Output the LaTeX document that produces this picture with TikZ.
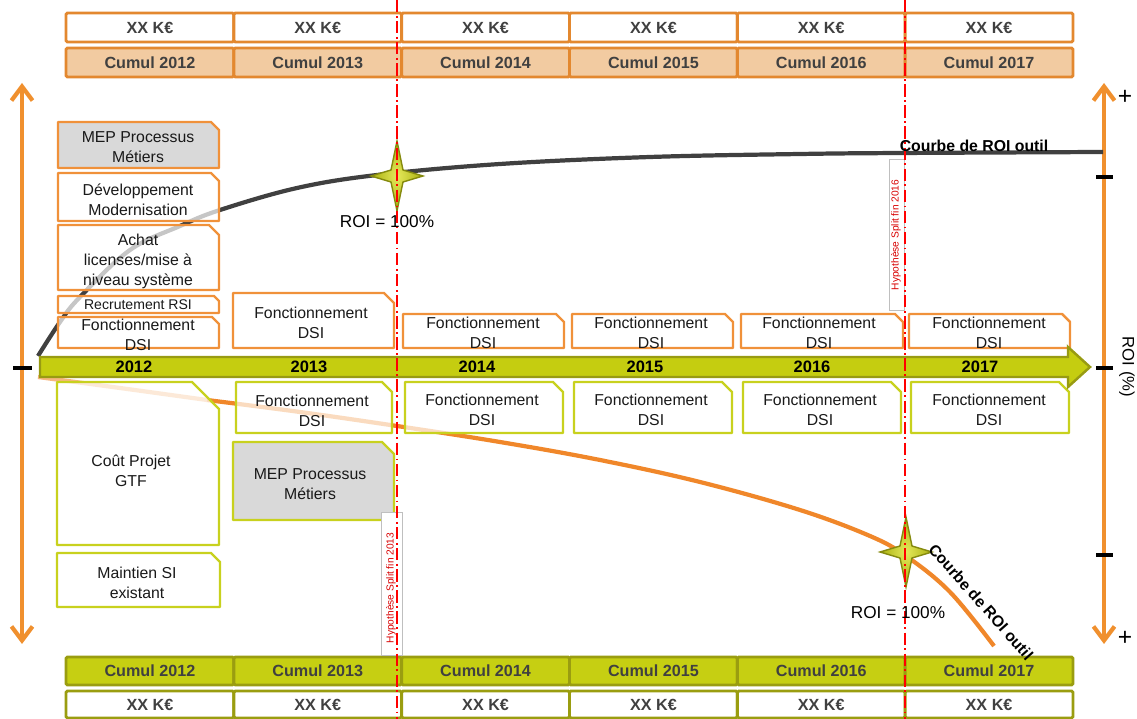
\documentclass[tikz,border=0pt]{standalone}
\usepackage{fontspec}
\setmainfont{Liberation Sans}
\usetikzlibrary{arrows.meta}
\definecolor{orBorder}{HTML}{E3882F}
\definecolor{orFill}{HTML}{F2CBA1}
\definecolor{orBox}{HTML}{F0913A}
\definecolor{olFill}{HTML}{C6CF12}
\definecolor{olBorder}{HTML}{9A9D10}
\definecolor{grBox}{HTML}{C8D11E}
\definecolor{meGray}{HTML}{D9D9D9}
\definecolor{axOr}{HTML}{F0902E}
\definecolor{curveGray}{HTML}{404040}
\definecolor{curveOr}{HTML}{F0872A}
\definecolor{txtGray}{HTML}{404040}
\definecolor{bandFill}{HTML}{C5CD10}
\definecolor{bandBorder}{HTML}{989B12}
\definecolor{starIn}{HTML}{E4E85A}
\definecolor{starOut}{HTML}{A9B00E}
\definecolor{starBorder}{HTML}{858A0E}
\newcommand\snipbox[6]{\draw[#1] (#2,#3) -- ({#4-#6},#3) -- (#4,{#3+#6}) -- (#4,#5) -- (#2,#5) -- cycle;}
\newcommand\starat[2]{\shadedraw[starsh] (#1,{#2-35}) -- ({#1+6},{#2-6}) -- ({#1+26},#2) -- ({#1+6},{#2+6}) -- (#1,{#2+35}) -- ({#1-6},{#2+6}) -- ({#1-26},#2) -- ({#1-6},{#2-6}) -- cycle;}
\tikzset{
 rowcell/.style={draw, line width=1.6pt, minimum width=3.356cm, minimum height=0.58cm, inner sep=0pt, font=\bfseries\fontsize{9.2}{11}\selectfont, text=txtGray, rounded corners=0.8pt},
 toprowA/.style={rowcell, draw=orBorder, fill=white},
 toprowB/.style={rowcell, draw=orBorder, fill=orFill},
 botrowA/.style={rowcell, draw=olBorder, fill=olFill, minimum height=0.56cm},
 botrowB/.style={rowcell, draw=olBorder, fill=white, minimum height=0.54cm},
 obox/.style={draw=orBox, line width=1.4pt, fill=white, fill opacity=0.7, line join=round},
 ogbox/.style={draw=orBox, line width=1.4pt, fill=meGray, line join=round},
 gbox/.style={draw=grBox, line width=1.4pt, fill=white, fill opacity=0.7, line join=round},
 ggbox/.style={draw=grBox, line width=1.4pt, fill=meGray, line join=round},
 lbl/.style={align=center, font=\fontsize{9}{11.3}\selectfont, text=black!90, inner sep=0pt},
 yrlbl/.style={font=\bfseries\fontsize{9.4}{11}\selectfont, inner sep=0pt},
 axisarrow/.style={draw=axOr, line width=2.4pt, arrows={Straight Barb[length=8pt,width=12pt]-Straight Barb[length=8pt,width=12pt]}},
 tickmark/.style={line width=2.2pt, black},
 split/.style={draw=red, line width=1.1pt, dash pattern=on 7pt off 2pt on 1pt off 2pt},
 hyp/.style={draw=black!25, line width=0.4pt, fill=white},
 hyptext/.style={text=red!85!black, font=\fontsize{5.8}{7}\selectfont, rotate=90, inner sep=0pt},
 starsh/.style={draw=starBorder, line width=0.8pt, inner color=starIn, outer color=starOut},
 roitext/.style={font=\fontsize{9.8}{12}\selectfont, inner sep=0pt},
 curvelbl/.style={font=\bfseries\fontsize{9}{11}\selectfont, inner sep=0pt},
 plussign/.style={font=\fontsize{14}{16}\selectfont, inner sep=0pt},
}
\begin{document}
\begin{tikzpicture}[x=0.02cm,y=-0.02cm]
\useasboundingbox (0,0) rectangle (1137,719);

% cumulative rows
\foreach \i in {0,...,5} {
  \pgfmathsetmacro\cx{66+167.83*(\i+0.5)}
  \pgfmathtruncatemacro\yr{2012+\i}
  \node[toprowA] (tx\i) at (\cx,27.5) {XX K€};
  \node[toprowB] (tc\i) at (\cx,62.5) {Cumul \yr};
  \node[botrowA] (bc\i) at (\cx,671) {Cumul \yr};
  \node[botrowB] (bx\i) at (\cx,704.5) {XX K€};
}

% axes
\draw[axisarrow] (22,644) -- (22,83);
\draw[axisarrow] (1104,644) -- (1104,83);
\draw[tickmark] (13,368) -- (32,368);
\draw[tickmark] (1096,177) -- (1113,177);
\draw[tickmark] (1096,368) -- (1113,368);
\draw[tickmark] (1096,555) -- (1113,555);

% curves
\draw[curveGray, line width=2.4pt] plot[smooth, tension=0.6] coordinates {(38,356) (60,322) (80,297) (130,250) (180,226) (220,210) (297,188) (377,175) (500,164) (650,157) (800,154) (900,153) (1103,152)};
\draw[curveOr!60, line width=2.4pt] plot[smooth, tension=0.6] coordinates {(38,377) (120,388) (207,400)};
\draw[curveOr, line width=2.4pt] plot[smooth, tension=0.6] coordinates {(207,400) (300,412) (397,426) (500,442) (600,460) (700,482) (800,510) (870,536) (906,556) (950,592) (994,646)};

% upper boxes
\snipbox{ogbox}{58}{122}{219}{168}{8}
\snipbox{obox}{58}{173}{219}{221}{8}
\snipbox{obox}{58}{225}{219}{290}{10}
\snipbox{obox}{58}{296}{219}{313}{5}
\snipbox{obox}{58}{317}{219}{348}{7}
\snipbox{obox}{233}{293}{394}{348}{10}
\snipbox{obox}{403}{314}{564}{348}{8}
\snipbox{obox}{572}{314}{733}{348}{8}
\snipbox{obox}{741}{314}{903}{348}{8}
\snipbox{obox}{909}{314}{1070}{348}{8}

% lower boxes
\snipbox{gbox}{57}{382}{219}{545}{27}
\snipbox{gbox}{57}{553}{220}{607}{9}
\snipbox{gbox}{236}{382}{392}{433}{10}
\snipbox{ggbox}{233}{442}{394}{520}{12}
\snipbox{gbox}{405}{382}{563}{433}{10}
\snipbox{gbox}{574}{382}{732}{433}{10}
\snipbox{gbox}{743}{382}{901}{433}{10}
\snipbox{gbox}{911}{382}{1069}{433}{10}

% box texts
\node[lbl] (u1) at (138,147) {MEP Processus\\Métiers};
\node[lbl] (u2) at (138,199.5) {Développement\\Modernisation};
\node[lbl] (u3) at (138,261.5) {Achat\\licenses/mise à\\niveau système};
\node[lbl, font=\fontsize{8}{10}\selectfont] (u4) at (138,305) {Recrutement RSI};
\node[lbl] (u5) at (138,335) {Fonctionnement\\DSI};
\node[lbl] (u6) at (311,323) {Fonctionnement\\DSI};
\node[lbl] (u7) at (483,333) {Fonctionnement\\DSI};
\node[lbl] (u8) at (651,333) {Fonctionnement\\DSI};
\node[lbl] (u9) at (819,333) {Fonctionnement\\DSI};
\node[lbl] (u10) at (989,333) {Fonctionnement\\DSI};
\node[lbl] (l1) at (131,471) {Coût Projet\\GTF};
\node[lbl] (l2) at (137,582.5) {Maintien SI\\existant};
\node[lbl] (l3) at (312,410.5) {Fonctionnement\\DSI};
\node[lbl] (l4) at (310,484.5) {MEP Processus\\Métiers};
\node[lbl] (l5) at (482,410) {Fonctionnement\\DSI};
\node[lbl] (l6) at (651,410) {Fonctionnement\\DSI};
\node[lbl] (l7) at (820,410) {Fonctionnement\\DSI};
\node[lbl] (l8) at (989,410) {Fonctionnement\\DSI};

% timeline band
\draw[fill=bandFill, draw=bandBorder, line width=1.4pt, line join=miter] (40,357) -- (1068,357) -- (1068,347) -- (1090,367) -- (1068,387) -- (1068,377) -- (40,377) -- cycle;
\node[yrlbl] (y2012) at (134,367) {2012};
\node[yrlbl] (y2013) at (309,367) {2013};
\node[yrlbl] (y2014) at (477,367) {2014};
\node[yrlbl] (y2015) at (645,367) {2015};
\node[yrlbl] (y2016) at (812,367) {2016};
\node[yrlbl] (y2017) at (980,367) {2017};

% stars
\starat{397}{176}
\starat{906}{552}

% hypothesis labels
\draw[hyp] (381,512) rectangle (402,655);
\node[hyptext] (h2013) at (391,588) {Hypothèse Split fin 2013};
\draw[hyp] (889,159) rectangle (904,310);
\node[hyptext] (h2016) at (896,235) {Hypothèse Split fin 2016};

% split lines
\draw[split] (397,0) -- (397,719);
\draw[split] (905,0) -- (905,719);

% labels
\node[roitext] (roi1) at (387,222) {ROI = 100\%};
\node[roitext] (roi2) at (898,613) {ROI = 100\%};
\node[curvelbl] (cu) at (974,146) {Courbe de ROI outil};
\node[curvelbl, rotate=-48.5] (cl) at (981,602) {Courbe de ROI outil};
\node[plussign] (p1) at (1125,97) {+};
\node[plussign] (p2) at (1125,638) {+};
\node[font=\fontsize{9.5}{11}\selectfont, rotate=-90, inner sep=0pt] (roiax) at (1127,367) {ROI (\%)};
\end{tikzpicture}
\end{document}
